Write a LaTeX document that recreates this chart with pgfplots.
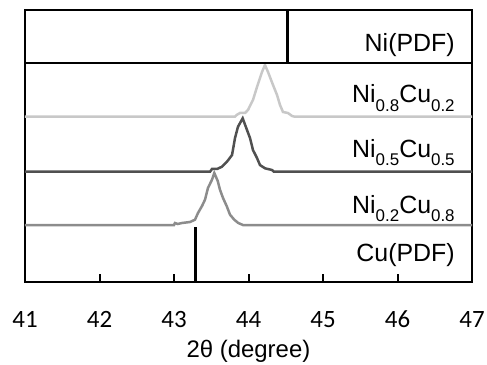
\documentclass[border=0pt]{standalone}
\usepackage{pgfplots}
\pgfplotsset{compat=1.18}
\usepackage{fontspec}
\setmainfont{Liberation Sans}
\newfontfamily\calibri{Carlito}
\definecolor{lg}{HTML}{C8C8C8}
\definecolor{mg}{HTML}{8C8C8C}
\definecolor{dg}{HTML}{505050}
\newcommand{\sub}[1]{\raisebox{-0.34em}{\fontsize{17}{17}\selectfont #1}}
\begin{document}
\begin{tikzpicture}
\begin{axis}[
  scale only axis, width=447bp, height=272bp,
  xmin=41, xmax=47, ymin=0, ymax=272,
  xtick={41,42,43,44,45,46,47}, ytick=\empty,
  xtick pos=lower, tick align=inside, major tick length=8bp,
  axis line style={line width=2.5bp, black},
  tick style={black, line width=2bp},
  /pgf/number format/assume math mode=true,
  xticklabel style={font=\calibri\fontsize{25}{25}\selectfont, anchor=base, yshift=-45bp},
  xlabel={2θ (degree)},
  xlabel style={font=\fontsize{24}{24}\selectfont, at={(axis description cs:0.5,0)}, anchor=base, yshift=-75bp},
]
\addplot[lg, line width=2.5bp] coordinates {(41,165.3) (43.819,165.3) (43.84,167) (43.886,169) (43.953,169) (43.993,172) (44.060,182) (44.114,195) (44.181,210) (44.221,217) (44.262,210) (44.329,197) (44.383,187) (44.423,177) (44.463,170) (44.530,169) (44.584,166) (44.62,165.3) (47,165.3)};
\addplot[dg, line width=2.5bp] coordinates {(41,110.3) (43.483,110.3) (43.510,113) (43.577,113) (43.644,115.3) (43.711,120.3) (43.779,127) (43.819,144) (43.859,155.3) (43.922,163.7) (43.980,152) (44.020,144) (44.060,132) (44.114,124) (44.154,117) (44.221,113.7) (44.315,112) (44.34,110.3) (47,110.3)};
\addplot[mg, line width=2.5bp] coordinates {(41,57) (43.0,57) (43.013,59) (43.05,58) (43.107,59) (43.215,60) (43.282,62.3) (43.322,69) (43.376,76) (43.416,82.3) (43.456,94) (43.510,102.3) (43.541,109) (43.587,101) (43.617,92.3) (43.658,84) (43.707,76) (43.752,67.3) (43.809,62.3) (43.863,59) (43.926,57) (47,57)};
\addplot[black, line width=2.5bp] coordinates {(41,219) (47,219)};
\addplot[black, line width=3bp] coordinates {(44.517,219) (44.517,272)};
\addplot[black, line width=3bp] coordinates {(43.295,0) (43.295,55)};
\coordinate (sw) at (rel axis cs:0,0);
\coordinate (ne) at (rel axis cs:1,1);
\begin{scope}[every node/.style={anchor=base east, inner sep=0pt, font=\fontsize{25}{25}\selectfont}]
\node at (axis cs:46.77,230) {Ni(PDF)};
\node at (axis cs:46.77,179) {Ni\sub{0.8}Cu\sub{0.2}};
\node at (axis cs:46.77,124.5) {Ni\sub{0.5}Cu\sub{0.5}};
\node at (axis cs:46.77,69) {Ni\sub{0.2}Cu\sub{0.8}};
\node at (axis cs:46.77,20.3) {Cu(PDF)};
\end{scope}
\end{axis}
\pgfresetboundingbox
\path ([shift={(-25bp,-83bp)}]sw) rectangle ([shift={(15bp,10bp)}]ne);
\end{tikzpicture}
\end{document}
